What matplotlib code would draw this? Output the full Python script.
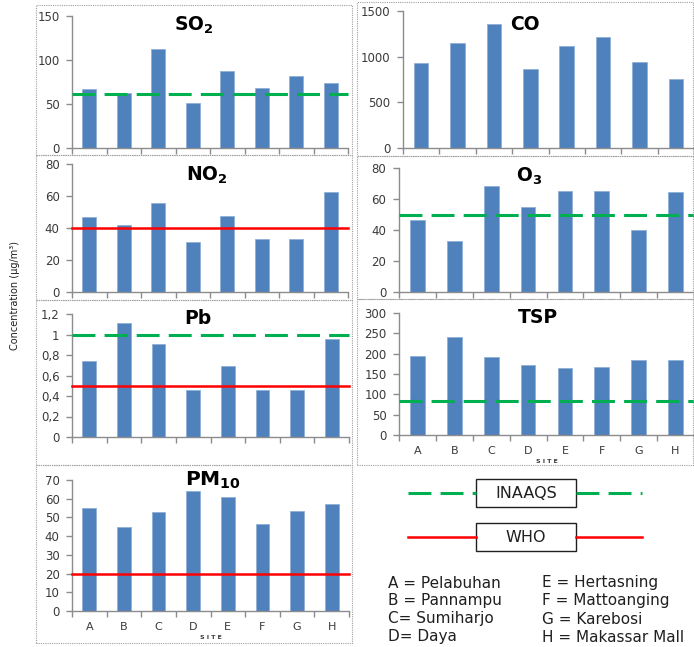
import matplotlib
matplotlib.use("Agg")
import matplotlib.pyplot as plt
from matplotlib.patches import Rectangle
from matplotlib.lines import Line2D
from matplotlib.ticker import FuncFormatter

W, H = 694, 647
sites = ["A", "B", "C", "D", "E", "F", "G", "H"]

so2 = [67, 62, 112, 51, 88, 68, 82, 74]
co = [928, 1147, 1354, 863, 1121, 1212, 943, 754]
no2 = [47, 41.6, 55.8, 31.5, 47.8, 33, 33, 62.7]
o3 = [46.3, 32.6, 68.1, 55.1, 64.9, 64.9, 39.8, 64.2]
pb = [0.74, 1.11, 0.91, 0.46, 0.69, 0.46, 0.46, 0.96]
tsp = [194, 240, 191.5, 172.6, 164.4, 166.8, 185, 185]
pm10 = [54.8, 44.8, 52.9, 64.3, 60.9, 46.3, 53.6, 57]

inaaqs = {"SO2": 61, "O3": 50, "Pb": 1.0, "TSP": 84}
who = {"NO2": 40, "Pb": 0.5, "PM10": 20}

site_names = ["A = Pelabuhan", "B = Pannampu", "C= Sumiharjo", "D= Daya",
              "E = Hertasning", "F = Mattoanging", "G = Karebosi", "H = Makassar Mall"]

BAR = "#4F81BD"
GREEN = "#00B050"
RED = "#FF0000"
SPINE = "#8C8C8C"
TXT = "#3A3A3A"
DASH = (7.5, 3)
GLW = 2.2

fig = plt.figure(figsize=(W / 100, H / 100), dpi=100)
fig.patch.set_facecolor("white")


def rect(x0, ytop, x1, ybot):
    return [x0 / W, 1 - ybot / H, (x1 - x0) / W, (ybot - ytop) / H]


def comma_fmt(v, pos):
    s = ("%g" % round(v, 2))
    return s.replace(".", ",")


def panel(px, values, ymax, ystep, title, tpos, green=None, red=None,
          xlabels=False, comma=False, tsize=13.5):
    ax = fig.add_axes(rect(*px))
    x = list(range(len(values)))
    ax.bar(x, values, width=0.4, color=BAR, edgecolor="#8FB0D8", linewidth=0.6, zorder=2)
    ax.set_xlim(-0.5, len(values) - 0.5)
    ax.set_ylim(0, ymax)
    ticks = []
    v = 0.0
    while v <= ymax + 1e-9:
        ticks.append(round(v, 4))
        v += ystep
    ax.set_yticks(ticks)
    if comma:
        ax.yaxis.set_major_formatter(FuncFormatter(comma_fmt))
    ax.set_xticks([i - 0.5 for i in range(len(values) + 1)])
    ax.set_xticklabels([])
    if xlabels:
        ax.set_xticks(x, minor=True)
        ax.set_xticklabels(sites, minor=True)
        ax.tick_params(axis="x", which="minor", length=0, labelsize=8,
                       labelcolor=TXT, pad=8)
        ax.set_xlabel("S I T E", fontsize=4.5, color=TXT, labelpad=2, fontweight="bold")
    for s in ["top", "right"]:
        ax.spines[s].set_visible(False)
    for s in ["left", "bottom"]:
        ax.spines[s].set_color(SPINE)
        ax.spines[s].set_linewidth(1.0)
    ax.tick_params(axis="both", which="major", direction="out", length=4,
                   color=SPINE, labelsize=8.5, labelcolor=TXT, width=1.0)
    ax.tick_params(axis="y", pad=5)
    if green is not None:
        ax.axhline(green, color=GREEN, lw=GLW, dashes=DASH, zorder=3, clip_on=False)
    if red is not None:
        ax.axhline(red, color=RED, lw=1.8, zorder=3, clip_on=False)
    ax.text(tpos[0], tpos[1], title, transform=ax.transAxes, ha="center", va="center",
            fontsize=tsize, fontweight="bold", color="black")
    ax.set_facecolor("none")
    return ax


# panel borders (dotted)
def border(x0, y0, x1, y1):
    fig.patches.append(Rectangle((x0 / W, 1 - y1 / H), (x1 - x0) / W, (y1 - y0) / H,
                                 transform=fig.transFigure, fill=False,
                                 edgecolor="#A0A0A0", lw=0.8, linestyle=(0, (1, 1))))

border(36, 5, 352, 155)
border(36, 155, 352, 300)
border(36, 300, 352, 465)
border(36, 465, 352, 643)
border(357, 2, 693, 156)
border(357, 156, 693, 299)
border(357, 299, 693, 465)

panel((72, 16, 348, 148), so2, 150, 50, r"$\mathbf{SO_2}$", (0.44, 0.93), green=inaaqs["SO2"])
panel((403, 11, 694, 148), co, 1500, 500, "CO", (0.42, 0.90))
panel((72, 164, 348, 292), no2, 80, 20, r"$\mathbf{NO_2}$", (0.49, 0.91), red=who["NO2"])
panel((399, 168, 694, 292), o3, 80, 20, r"$\mathbf{O_3}$", (0.44, 0.93), green=inaaqs["O3"])
panel((72, 314, 349, 437), pb, 1.2, 0.2, "Pb", (0.455, 0.96), green=inaaqs["Pb"],
      red=who["Pb"], comma=True)
panel((399, 313, 694, 435), tsp, 300, 50, "TSP", (0.47, 0.96), green=inaaqs["TSP"],
      xlabels=True)
panel((72, 480, 349, 611), pm10, 70, 10, r"$\mathbf{PM_{10}}$", (0.51, 1.0), red=who["PM10"],
      xlabels=True, tsize=14.5)

fig.text(15 / W, 1 - 295 / H, "Concentration (μg/m³)", rotation=90, ha="center",
         va="center", fontsize=7, color="#202020")

# legend
def legend_line(y, color, dashed, label):
    yy = 1 - y / H
    kw = dict(color=color, lw=GLW if dashed else 1.8, transform=fig.transFigure)
    if dashed:
        kw["dashes"] = DASH
    fig.lines.append(Line2D([408 / W, 476 / W], [yy, yy], **kw))
    fig.lines.append(Line2D([576 / W, 642 / W], [yy, yy], **kw))
    fig.patches.append(Rectangle((476 / W, yy - 14 / H), 100 / W, 28 / H,
                                 transform=fig.transFigure, fill=True, facecolor="white",
                                 edgecolor="#202020", lw=1.0))
    fig.text(526 / W, yy, label, ha="center", va="center", fontsize=11.5, color="#202020")

legend_line(493, GREEN, True, "INAAQS")
legend_line(537, RED, False, "WHO")

ys = [583, 601, 619, 637]
for i, name in enumerate(site_names[:4]):
    fig.text(388 / W, 1 - ys[i] / H, name, ha="left", va="center", fontsize=11, color="#202020")
for i, name in enumerate(site_names[4:]):
    fig.text(542 / W, 1 - ys[i] / H, name, ha="left", va="center", fontsize=11, color="#202020")

fig.savefig("out.png", dpi=100)
